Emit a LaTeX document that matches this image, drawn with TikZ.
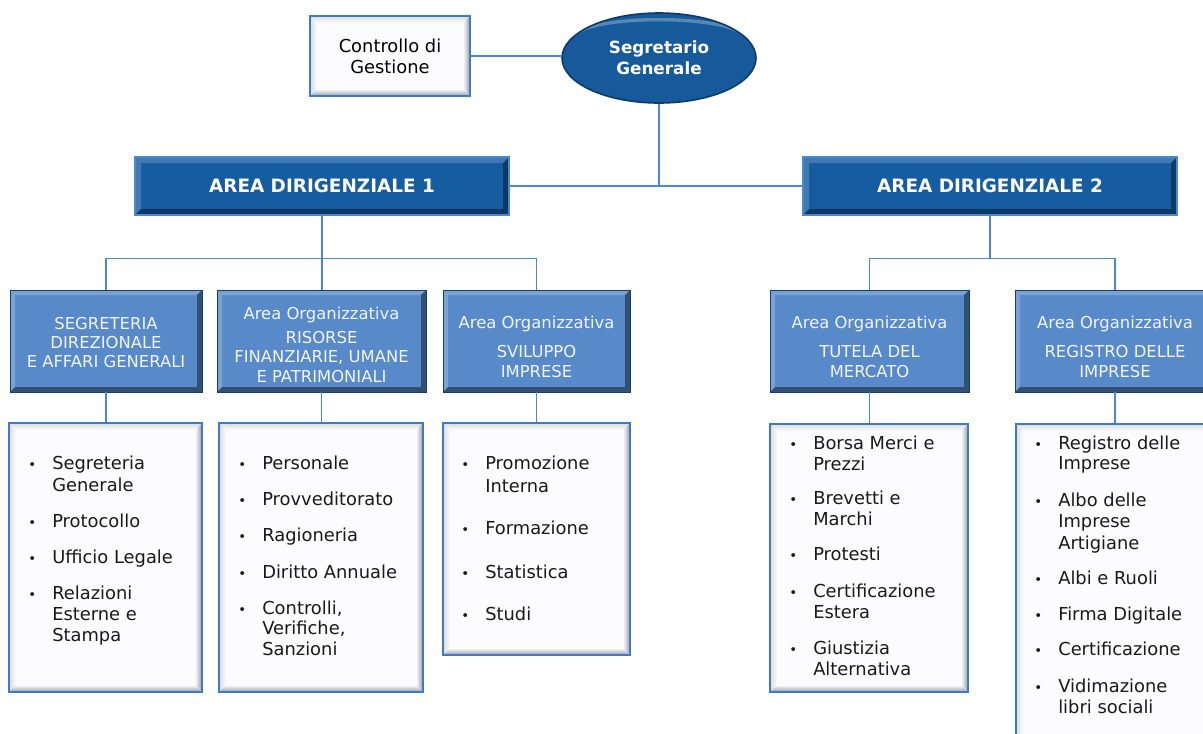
\documentclass[tikz,border=0pt]{standalone}
\usepackage{fontspec}
\setmainfont{DejaVu Sans}
\usetikzlibrary{calc,shapes.geometric}
\definecolor{lnblue}{HTML}{4A89D2}
\definecolor{areablue}{HTML}{165CA0}
\definecolor{orgblue}{HTML}{5889C9}
\definecolor{sgblue}{HTML}{175A9C}
\definecolor{boxline}{HTML}{3D7CC5}
\definecolor{boxfill}{HTML}{FCFCFF}
\definecolor{orgtext}{HTML}{F2F5FA}
\definecolor{bevgrey}{HTML}{9A9AA6}
\tikzset{
  bev/.style n args={3}{path picture={
    \coordinate (bnw) at (path picture bounding box.north west);
    \coordinate (bse) at (path picture bounding box.south east);
    \fill[#2] (bnw) -- (bnw -| bse) -- ($(bnw -| bse)+(-#1,#1)$) -- ($(bnw)+(#1,#1)$) -- cycle;
    \fill[#2] (bnw) -- ($(bnw)+(#1,#1)$) -- ($(bse -| bnw)+(#1,-#1)$) -- (bse -| bnw) -- cycle;
    \fill[#3] (bse) -- (bse |- bnw) -- ($(bse |- bnw)+(-#1,#1)$) -- ($(bse)+(-#1,-#1)$) -- cycle;
    \fill[#3] (bse) -- ($(bse)+(-#1,-#1)$) -- ($(bse -| bnw)+(#1,-#1)$) -- (bse -| bnw) -- cycle;
  }},
  softbev/.style={path picture={
    \coordinate (bnw) at (path picture bounding box.north west);
    \coordinate (bse) at (path picture bounding box.south east);
    \shade[top color=black!14, bottom color=boxfill] (bnw) -- (bnw -| bse) -- ($(bnw -| bse)+(-#1,#1)$) -- ($(bnw)+(#1,#1)$) -- cycle;
    \shade[left color=black!14, right color=boxfill] (bnw) -- ($(bnw)+(#1,#1)$) -- ($(bse -| bnw)+(#1,-#1)$) -- (bse -| bnw) -- cycle;
    \shade[left color=boxfill, right color=bevgrey] (bse) -- (bse |- bnw) -- ($(bse |- bnw)+(-#1,#1)$) -- ($(bse)+(-#1,-#1)$) -- cycle;
    \shade[top color=boxfill, bottom color=bevgrey] (bse) -- ($(bse)+(-#1,-#1)$) -- ($(bse -| bnw)+(#1,-#1)$) -- (bse -| bnw) -- cycle;
  }},
  conn/.style={draw=lnblue, line width=1.1pt},
  areabox/.style={draw=lnblue, line width=0.8pt, fill=areablue, inner sep=0,
    minimum width=280.5pt, minimum height=43.5pt, text=white,
    font=\fontsize{13.8}{16}\selectfont\bfseries,
    bev={6}{white,opacity=.18}{black,opacity=.38}},
  orgbox/.style={draw=areablue!70!black, line width=0.6pt, fill=orgblue, inner sep=0,
    minimum height=76.5pt, bev={5}{white,opacity=.22}{black,opacity=.42}},
  orgtxt/.style={text=orgtext, align=center, font=\fontsize{12.3}{14.6}\selectfont},
  leafbox/.style={draw=boxline, line width=1.2pt, fill=boxfill, inner sep=0, softbev=7},
  btxt/.style={anchor=base west, inner sep=0, yshift=-4.5pt,
    font=\fontsize{13.4}{16.1}\selectfont, text=black!90},
  bdot/.style={anchor=base west, inner sep=0, yshift=-4.5pt,
    font=\fontsize{10}{12}\selectfont, text=black!90},
}
\newcommand\bitem[4]{%
  \node[bdot] (#1b) at ({#2-24},#3) {•};
  \node[btxt] (#1) at (#2,#3) {#4};}
\newcommand\citem[4]{\node[btxt] (#1) at (#2,#3) {#4};}
\begin{document}
\begin{tikzpicture}[x=0.75pt,y=-0.75pt]
\useasboundingbox (0,0) rectangle (1203,733);
\fill[white] (0,0) rectangle (1203,733);

% top level
\node[ellipse, fill=sgblue, draw=sgblue!65!black, line width=1.2pt,
  minimum width=145.5pt, minimum height=67.5pt, inner sep=0,
  text=white, align=center, font=\fontsize{12.6}{15.8}\selectfont\bfseries,
  path picture={\draw[white, opacity=.28, line width=2.5pt]
     ([xshift=-60pt,yshift=-14pt]path picture bounding box.north) .. controls
     ([xshift=-40pt,yshift=-2pt]path picture bounding box.north) and
     ([xshift=40pt,yshift=-2pt]path picture bounding box.north) ..
     ([xshift=60pt,yshift=-14pt]path picture bounding box.north);}]
  (sg) at (659,58) {Segretario\\Generale};
\node[leafbox, minimum width=120pt, minimum height=60pt, align=center,
  font=\fontsize{13.4}{15.8}\selectfont] (cg) at (390,56) {Controllo di\\Gestione};

% area level
\node[areabox] (a1) at (322,186) {AREA DIRIGENZIALE 1};
\node[areabox] (a2) at (990,186) {AREA DIRIGENZIALE 2};

% organizational areas
\node[orgbox, minimum width=144pt] (l1) at (106,341) {};
\node[orgbox, minimum width=156.75pt] (l2) at (321.5,341) {};
\node[orgbox, minimum width=140.25pt] (l3) at (536.5,341) {};
\node[orgbox, minimum width=149.25pt] (r1) at (869.5,341) {};
\node[orgbox, minimum width=150pt] (r2) at (1115,341) {};
\node[orgtxt] (l1t) at (106,342.5) {SEGRETERIA\\DIREZIONALE\\E AFFARI GENERALI};
\node[orgtxt] (l2t) at (321.5,344.5) {Area Organizzativa\\[3.5pt]RISORSE\\FINANZIARIE, UMANE\\E PATRIMONIALI};
\node[orgtxt] (l3t) at (536.5,347) {Area Organizzativa\\[7pt]SVILUPPO\\IMPRESE};
\node[orgtxt] (r1t) at (869.5,347) {Area Organizzativa\\[7pt]TUTELA DEL\\MERCATO};
\node[orgtxt] (r2t) at (1115,347) {Area Organizzativa\\[7pt]REGISTRO DELLE\\IMPRESE};

% leaf boxes
\node[leafbox, minimum width=144.75pt, minimum height=201.75pt] (b1) at (105.5,557.5) {};
\node[leafbox, minimum width=153pt, minimum height=201.75pt] (b2) at (321,557.5) {};
\node[leafbox, minimum width=140.25pt, minimum height=174pt] (b3) at (536.5,539) {};
\node[leafbox, minimum width=148.5pt, minimum height=201pt] (b4) at (869,558) {};
\node[leafbox, minimum width=148.5pt, minimum height=241.5pt] (b5) at (1115,585) {};

% connectors
\draw[conn] (cg.east) -- (cg.east -| sg.west);
\draw[conn] (a1.east) -- (a2.west);
\draw[conn] (sg.south) -- (sg.south |- a1.east);
\coordinate (j1) at ($(a1.south)+(0,43)$);
\coordinate (j2) at ($(a2.south)+(0,43)$);
\draw[conn] (a1.south) -- (j1);
\draw[conn] (l1.north) |- (j1) -| (l3.north);
\draw[conn] (j1) -- (j1 |- l2.north);
\draw[conn] (a2.south) -- (j2);
\draw[conn] (r1.north) |- (j2) -| (r2.north);
\draw[conn] (l1.south) -- (l1.south |- b1.north);
\draw[conn] (l2.south) -- (l2.south |- b2.north);
\draw[conn] (l3.south) -- (l3.south |- b3.north);
\draw[conn] (r1.south) -- (r1.south |- b4.north);
\draw[conn] (r2.south) -- (r2.south |- b5.north);

% lists
\bitem{p1}{52}{463}{Segreteria}
\citem{p1c}{52}{485}{Generale}
\bitem{p2}{52}{521}{Protocollo}
\bitem{p3}{52}{557}{Ufficio Legale}
\bitem{p4}{52}{593}{Relazioni}
\citem{p4c}{52}{614}{Esterne e}
\citem{p4d}{52}{635}{Stampa}

\bitem{q1}{262}{463}{Personale}
\bitem{q2}{262}{499}{Provveditorato}
\bitem{q3}{262}{535}{Ragioneria}
\bitem{q4}{262}{572}{Diritto Annuale}
\bitem{q5}{262}{608}{Controlli,}
\citem{q5c}{262}{628}{Verifiche,}
\citem{q5d}{262}{649}{Sanzioni}

\bitem{s1}{485}{463}{Promozione}
\citem{s1c}{485}{486}{Interna}
\bitem{s2}{485}{528}{Formazione}
\bitem{s3}{485}{572}{Statistica}
\bitem{s4}{485}{614}{Studi}

\bitem{t1}{813}{443}{Borsa Merci e}
\citem{t1c}{813}{464}{Prezzi}
\bitem{t2}{813}{498}{Brevetti e}
\citem{t2c}{813}{519}{Marchi}
\bitem{t3}{813}{554}{Protesti}
\bitem{t4}{813}{591}{Certificazione}
\citem{t4c}{813}{612}{Estera}
\bitem{t5}{813}{648}{Giustizia}
\citem{t5c}{813}{669}{Alternativa}

\bitem{u1}{1058}{443}{Registro delle}
\citem{u1c}{1058}{463}{Imprese}
\bitem{u2}{1058}{500}{Albo delle}
\citem{u2c}{1058}{521}{Imprese}
\citem{u2d}{1058}{543}{Artigiane}
\bitem{u3}{1058}{578}{Albi e Ruoli}
\bitem{u4}{1058}{614}{Firma Digitale}
\bitem{u5}{1058}{649}{Certificazione}
\bitem{u6}{1058}{686}{Vidimazione}
\citem{u6c}{1058}{707}{libri sociali}
\end{tikzpicture}
\end{document}
